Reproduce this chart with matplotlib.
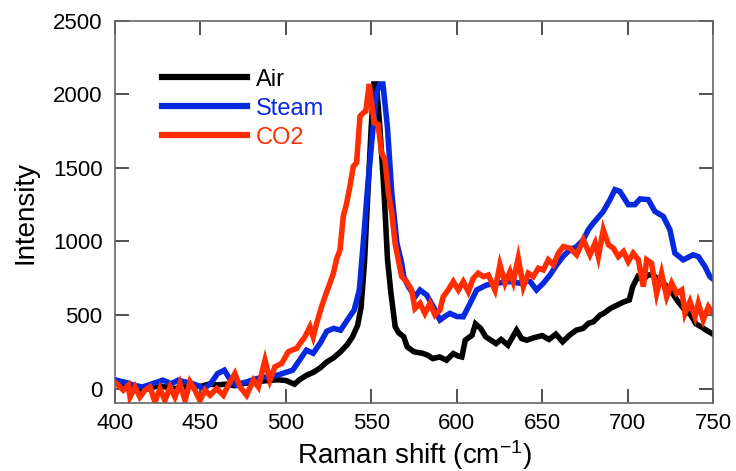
import matplotlib
matplotlib.use("Agg")
import matplotlib.pyplot as plt

plt.rcParams['font.family'] = ['Liberation Sans', 'DejaVu Sans']
plt.rcParams['mathtext.fontset'] = 'custom'
plt.rcParams['mathtext.rm'] = 'Liberation Sans'
plt.rcParams['mathtext.it'] = 'Liberation Sans'
plt.rcParams['mathtext.default'] = 'regular'

# ---- data ----
air_x = [400, 405, 410, 415, 420, 425, 430, 435, 440, 445, 450, 455, 460, 465, 470,
         475, 480, 485, 490, 495, 500, 505, 508, 512, 516, 520, 524, 528, 532, 536,
         539, 542, 544, 546, 548, 550, 551.5, 553, 555, 557.5, 559.5, 561.5, 564, 566,
         569, 571, 575, 580, 583, 586, 590, 594, 598, 601, 603, 605, 609, 611, 614,
         617, 620, 623, 626, 630, 635, 638, 641, 645, 650, 654, 658, 662, 666, 670,
         674, 677, 680, 684, 686, 690, 694, 698, 701, 703, 706, 709, 712, 715, 718,
         721, 725, 729, 733, 737, 740, 743, 746, 750]
air_y = [40, 20, 0, -10, 0, 20, 10, 0, 10, 20, 15, 30, 25, 30, 20,
         35, 40, 50, 55, 60, 55, 30, 60, 90, 110, 140, 181, 210, 250, 300,
         352, 430, 550, 854, 1329, 1783, 2070, 2070, 1780, 1329, 875, 649, 420, 380,
         352, 284, 250, 240, 227, 204, 215, 193, 238, 220, 215, 329, 363, 440, 409,
         352, 329, 306, 334, 295, 397, 340, 329, 345, 360, 334, 370, 318, 363, 397,
         409, 443, 454, 500, 511, 545, 568, 590, 602, 693, 761, 740, 772, 772, 740,
         716, 670, 600, 540, 500, 440, 420, 397, 370]

steam_x = [400, 403, 407, 411, 416, 420, 422, 425, 428, 433, 437, 441, 445, 448, 452,
           456, 460, 464, 467, 471, 475, 477, 483, 489, 495, 500, 504, 508, 512, 516,
           520, 524, 528, 532, 536, 540, 543, 545.3, 547.6, 550.2, 553, 555, 556.8,
           559.4, 562, 565, 567.8, 569, 571.7, 575.6, 578.5, 582.4, 586.3, 590.2, 593,
           596, 600, 603.8, 607.8, 611.7, 617.5, 623.4, 631, 637, 639, 643, 646.7,
           650.7, 654.6, 658.5, 662.4, 666.3, 670.2, 674.1, 677, 680, 685.8, 689.7,
           692.6, 695.5, 700.4, 704.3, 707.3, 712.1, 716, 720.9, 724.8, 727.7, 732.6,
           738.4, 741.4, 745.3, 748.2, 750]
steam_y = [60, 50, 40, 22, 11, 25, 34, 45, 57, 34, 57, 45, 35, 22, 0,
           34, 102, 125, 68, 22, 40, 45, 68, 80, 91, 110, 125, 193, 261, 240,
           307, 390, 409, 397, 466, 534, 670, 988, 1329, 1670, 2006, 2070, 2070,
           1783, 1329, 988, 852, 761, 693, 624, 670, 636, 556, 466, 490,
           511, 490, 488, 579, 670, 704, 716, 727, 716, 738, 727, 670,
           716, 772, 841, 900, 943, 965, 1011, 1079, 1125, 1204, 1284,
           1352, 1340, 1250, 1250, 1289, 1284, 1204, 1170, 1079, 920, 875,
           909, 897, 829, 761, 744]

co2_x = [400, 401, 404.9, 407.8, 408.8, 411.7, 414.6, 417.6, 420.5, 423.4, 426.3,
         429.2, 432.2, 435.1, 438, 441, 443.9, 446.8, 449.7, 452.7, 455.6, 459.5,
         463.4, 466.3, 470.2, 473.2, 477, 481, 483.9, 487.8, 490.7, 493.6, 497.5,
         501.4, 503.4, 506.3, 508.3, 511.2, 514.1, 516, 518, 520.9, 522.9, 525.8,
         527.8, 529.7, 531.7, 533.6, 535.6, 537.5, 539.5, 541.4, 543.4, 545.3, 546.8,
         548.8, 550.2, 551.7, 554, 556, 558, 560, 562, 563.9, 565.8, 567.8, 570.7,
         573.6, 575.6, 578.5, 581.4, 584.4, 587.3, 590.2, 592.1, 595, 598, 601,
         603.8, 606.8, 609.7, 612.6, 615.6, 618.5, 622.4, 625.3, 628.3, 631.2,
         633.1, 636, 639, 641.9, 644.8, 647.8, 650.7, 653.6, 656.6, 659.5, 662.4,
         666.3, 670.2, 674.1, 678, 681, 682.9, 685.8, 688.8, 691.7, 694.6, 697.6,
         700.4, 703.3, 706.3, 709.2, 711.2, 714, 717, 719.9, 722.9, 725.8, 728.7,
         731.7, 733.6, 736.5, 739.5, 741.4, 744.3, 747.3, 750]
co2_y = [40, 34, -11, 22, -57, 11, -57, -11, 11, -91, 0,
         -80, 11, -57, 34, -80, 45, -11, -80, -11, -45, 0,
         -45, 22, 102, 11, -45, 57, 11, 193, 57, 148, 170,
         250, 261, 272, 307, 352, 420, 352, 443, 556, 625, 716,
         784, 880, 943, 1170, 1261, 1374, 1511, 1534, 1851, 1874, 1885,
         2070, 1943, 1806, 1795, 1602, 1556, 1329, 1193, 988, 875, 761, 727,
         670, 545, 579, 511, 579, 500, 534, 624, 670, 727, 670,
         727, 659, 750, 784, 761, 772, 670, 841, 716, 795,
         727, 886, 693, 784, 761, 818, 806, 875, 841, 920, 965,
         954, 909, 1011, 909, 988, 897, 1079, 977, 954, 897, 931,
         863, 920, 875, 693, 875, 852, 647, 784, 624, 716, 647,
         670, 511, 591, 488, 579, 466, 556, 511]

series_names = ['Air', 'Steam', 'CO2']
series_colors = ['#000000', '#0629DE', '#FF2D00']

x_ticks = [400, 450, 500, 550, 600, 650, 700, 750]
y_ticks = [0, 500, 1000, 1500, 2000, 2500]

# ---- figure ----
fig = plt.figure(figsize=(7.36, 4.71), dpi=100)
ax = fig.add_axes([115/736, 1 - 403.3/471, 598/736, 382.6/471])

for xs, ys, name, c in zip([air_x, steam_x, co2_x], [air_y, steam_y, co2_y],
                           series_names, series_colors):
    ax.plot(xs, ys, color=c, lw=4, label=name, solid_joinstyle='miter')

ax.set_xlim(400, 750)
ax.set_ylim(-100, 2500)
ax.set_xticks(x_ticks)
ax.set_yticks(y_ticks)

for s in ax.spines.values():
    s.set_color('#666666')
    s.set_linewidth(1.2)

ax.tick_params(axis='both', direction='in', length=10, width=1.2, color='#333333',
               top=True, right=True, labelsize=16)
ax.tick_params(axis='x', pad=7)
ax.tick_params(axis='y', pad=9)

ax.set_xlabel(r'Raman shift (cm$^{-1}$)', fontsize=20, labelpad=3)
ax.set_ylabel('Intensity', fontsize=20, labelpad=10)

leg = ax.legend(loc='upper left', bbox_to_anchor=(0.078, 0.875), frameon=False,
                fontsize=17, handlelength=3.6, handletextpad=0.4,
                labelspacing=0.3, borderpad=0, borderaxespad=0,
                labelcolor='linecolor')
for h in leg.get_lines():
    h.set_linewidth(4.5)

fig.savefig('out.png', dpi=100)
